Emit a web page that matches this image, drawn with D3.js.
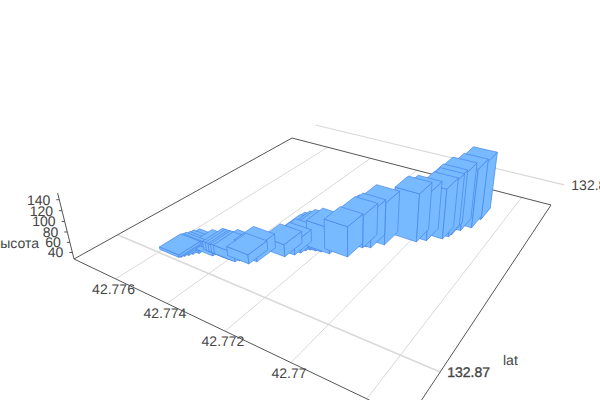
<!DOCTYPE html>
<html><head><meta charset="utf-8">
<script src="https://cdn.jsdelivr.net/npm/d3@7"></script>
<style>html,body{margin:0;padding:0;background:#fff;overflow:hidden}svg{display:block}text{font-family:"Liberation Sans",Arial,sans-serif;font-size:14px;fill:#444;text-rendering:geometricPrecision;opacity:.999}</style>
</head><body><svg id="c" width="600" height="400"></svg>
<script>
const latTicks=[42.776,42.774,42.772,42.77,42.768];
const lonTicks=[132.87,132.88];
const heightTicks=[40,60,80,100,120,140];
const barLat=[42.77568,42.77564,42.77559,42.77552,42.77546,42.77534,42.77491,42.77459,42.77448,42.77437,42.77427,42.77416,42.77408,42.77376,42.77363,42.77311,42.77292,42.77283,42.77277,42.77268,42.77252,42.77235,42.77209,42.77156,42.77143,42.77135,42.77123,42.77096,42.77022,42.76999,42.76962,42.76951,42.76948,42.76934,42.76911,42.76905];
const barLon=[132.87052,132.87056,132.87064,132.87073,132.87083,132.87095,132.87106,132.87117,132.87117,132.87117,132.87117,132.87117,132.87127,132.87129,132.87148,132.87207,132.87228,132.87245,132.87261,132.87271,132.87275,132.87279,132.87283,132.87297,132.87357,132.87367,132.87369,132.87402,132.87464,132.87484,132.87517,132.87536,132.87551,132.87586,132.87618,132.87678];
const barHeight=[32,32,33,33,34,35,38,43,43,43,44,44,47,45,55,51,51,55,60,63,67,72,78,86,91,93,98,110,122,122,126,131,135,142,145,145];
const halfLat=0.0004, halfLon=0.0004;

const latDomain=[42.7778,42.767], lonDomain=[132.86856,132.87839], zDomain=[27,152];
const uS=d3.scaleLinear().domain(latDomain).range([0,1]);
const vS=d3.scaleLinear().domain(lonDomain).range([0,1]);
const wS=d3.scaleLinear().domain(zDomain).range([0,1]);

// camera: ground homography from the four frame corners + vertical vanishing point
const A=[74,259],D=[409,419],C=[551,205],B=[292,138],V=[345,1350],K=-0.057;
const dx1=D[0]-C[0],dy1=D[1]-C[1],dx2=B[0]-C[0],dy2=B[1]-C[1],sx=A[0]-D[0]+C[0]-B[0],sy=A[1]-D[1]+C[1]-B[1];
const det=dx1*dy2-dx2*dy1,g=(sx*dy2-dx2*sy)/det,h=(dx1*sy-sx*dy1)/det;
const a=D[0]-A[0]+g*D[0],b=B[0]-A[0]+h*B[0],d=D[1]-A[1]+g*D[1],e=B[1]-A[1]+h*B[1];
function weight(lat,lon){return g*uS(lat)+h*vS(lon)+1;}
function project(lat,lon,z){
  const u=uS(lat),v=vS(lon),w=z==null?0:wS(z);
  const W=g*u+h*v+1+w*K;
  return [(a*u+b*v+A[0]+w*K*V[0])/W,(d*u+e*v+A[1]+w*K*V[1])/W];
}
const svg=d3.select('#c');
const line=d3.line();
const gridC='#d9d9d9', axisC='#555';
const L0=latDomain[0],L1=latDomain[1],O0=lonDomain[0],O1=lonDomain[1],Z0=zDomain[0];

// grid
svg.append('g').selectAll('path').data(latTicks).join('path')
  .attr('d',t=>line([project(t,O0),project(t,O1)])).attr('fill','none').attr('stroke',gridC).attr('stroke-width',1);
svg.append('g').selectAll('path').data(lonTicks).join('path')
  .attr('d',t=>line([project(L0,t),project(L1,t)])).attr('fill','none').attr('stroke',gridC)
  .attr('stroke-width',(t,i)=>i==0?1.6:1.2);
// frame
svg.append('path').attr('d',line([project(L0,O0),project(L0,O1),project(L1,O1),project(L1,O0),project(L0,O0)]))
  .attr('fill','none').attr('stroke',axisC).attr('stroke-width',1);
// height axis
svg.append('path').attr('d',line([project(L0,O0,Z0),project(L0,O0,zDomain[1])])).attr('fill','none').attr('stroke',axisC);
svg.append('g').selectAll('path').data(heightTicks).join('path').attr('d',t=>{const p=project(L0,O0,t);return line([[p[0]-3,p[1]],p]);}).attr('fill','none').attr('stroke',axisC);

// bars
const bars=barLat.map((la,i)=>({la,lo:barLon[i],z:barHeight[i]}));
bars.sort((p,q)=>weight(q.la,q.lo)-weight(p.la,p.lo));
const fill='rgb(120,186,255)',edge='rgb(72,133,232)';
const gb=svg.append('g');
bars.forEach(r=>{
  const u0=r.la+halfLat,u1=r.la-halfLat,v0=r.lo-halfLon,v1=r.lo+halfLon;
  const faces=[
    [project(u0,v0,Z0),project(u1,v0,Z0),project(u1,v0,r.z),project(u0,v0,r.z)],
    [project(u1,v0,Z0),project(u1,v1,Z0),project(u1,v1,r.z),project(u1,v0,r.z)],
    [project(u0,v0,r.z),project(u1,v0,r.z),project(u1,v1,r.z),project(u0,v1,r.z)]
  ];
  gb.selectAll(null).data(faces).join('path').attr('d',f=>line(f)+'Z')
    .attr('fill',fill).attr('stroke',edge).attr('stroke-width',0.7).attr('stroke-linejoin','round');
});

// labels
svg.append('g').selectAll('text').data(latTicks.filter(t=>project(t,O0)[1]<385)).join('text')
  .attr('x',t=>project(t,O0)[0]-2).attr('y',t=>project(t,O0)[1]+15).attr('text-anchor','middle').text(t=>String(t));
svg.append('g').selectAll('text').data(lonTicks).join('text')
  .attr('x',t=>project(L1,t)[0]+7).attr('y',t=>project(L1,t)[1]+5).text(t=>String(t))
  .attr('stroke',(t,i)=>i==0?'#444':'none').attr('stroke-width',0.35);
svg.append('g').selectAll('text').data(heightTicks).join('text')
  .attr('x',t=>project(L0,O0,t)[0]-9).attr('y',t=>project(L0,O0,t)[1]+5).attr('text-anchor','end').text(t=>String(t));
svg.append('text').attr('x',39).attr('y',248).attr('text-anchor','end').text('высота');
svg.append('text').attr('x',503).attr('y',365).text('lat');
</script></body></html>
